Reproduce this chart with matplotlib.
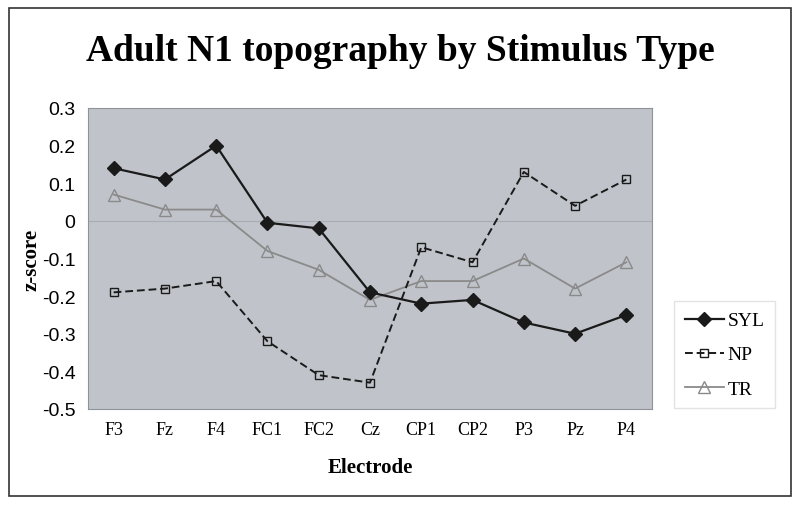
import matplotlib
matplotlib.use("Agg")
from matplotlib import pyplot as plt
from matplotlib.patches import Rectangle

electrodes = ["F3", "Fz", "F4", "FC1", "FC2", "Cz", "CP1", "CP2", "P3", "Pz", "P4"]
syl = [0.14, 0.11, 0.20, -0.005, -0.02, -0.19, -0.22, -0.21, -0.27, -0.30, -0.25]
np_vals = [-0.19, -0.18, -0.16, -0.32, -0.41, -0.43, -0.07, -0.11, 0.13, 0.04, 0.11]
tr = [0.07, 0.03, 0.03, -0.08, -0.13, -0.21, -0.16, -0.16, -0.10, -0.18, -0.11]
yticks = [0.3, 0.2, 0.1, 0, -0.1, -0.2, -0.3, -0.4, -0.5]

serif = "Liberation Serif"
sans = "Liberation Sans"

fig = plt.figure(figsize=(8, 5.06), dpi=100)
fig.patches.append(Rectangle((0.011, 0.018), 0.978, 0.964, transform=fig.transFigure,
                             fill=False, edgecolor="#333333", linewidth=1.2))
ax = fig.add_axes([88/800, 1-410/506, (652-88)/800, (410-109)/506])
ax.set_facecolor("#c0c4ca")

x = list(range(len(electrodes)))
ax.axhline(0, color="#a8adb3", linewidth=0.8, zorder=1)
ax.plot(x, syl, color="#1a1a1a", linewidth=1.6, marker="D", markersize=7,
        markerfacecolor="#1a1a1a", label="SYL", zorder=4)
ax.plot(x, np_vals, color="#1a1a1a", linewidth=1.4, linestyle=(0, (4, 2)), marker="s",
        markersize=6, markerfacecolor="none", markeredgewidth=1.0, label="NP", zorder=3)
ax.plot(x, tr, color="#8a8a8a", linewidth=1.3, marker="^", markersize=8,
        markerfacecolor="none", markeredgecolor="#8a8a8a", label="TR", zorder=2)

ax.set_xlim(-0.5, len(electrodes) - 0.5)
ax.set_ylim(-0.5, 0.3)
ax.set_yticks(yticks)
ax.set_yticklabels([f"{v:g}" for v in yticks], fontfamily=sans, fontsize=14)
ax.set_xticks(x)
ax.set_xticklabels(electrodes, fontfamily=serif, fontsize=13)
ax.tick_params(axis="both", length=0, pad=9)

for s in ax.spines.values():
    s.set_color("#8e9399")

ax.set_ylabel("z-score", fontfamily=serif, fontweight="bold", fontsize=15, labelpad=0)
ax.set_xlabel("Electrode", fontfamily=serif, fontweight="bold", fontsize=15, labelpad=13)
fig.text(0.5, 0.898, "Adult N1 topography by Stimulus Type", ha="center", va="center",
         fontfamily=serif, fontweight="bold", fontsize=27)

leg = fig.legend(loc="upper left", bbox_to_anchor=(674/800, 1-302/506), frameon=True,
                 prop={"family": serif, "size": 14}, handlelength=2.0, labelspacing=0.85,
                 fancybox=False, borderpad=0.55, handletextpad=0.2, borderaxespad=0)
leg.get_frame().set_edgecolor("#dddddd")

fig.savefig("out.png", dpi=100)
